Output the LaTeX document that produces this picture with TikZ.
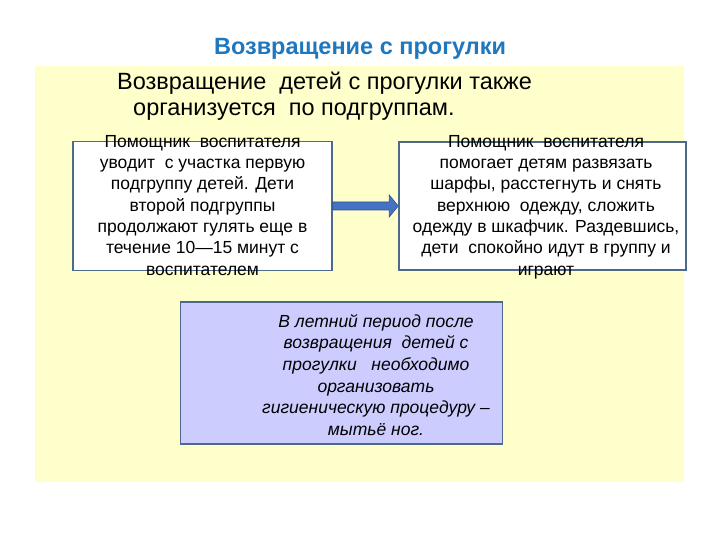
\documentclass[tikz,border=0pt]{standalone}
\usepackage{fontspec}
\setmainfont{Liberation Sans}
\usetikzlibrary{calc}
\definecolor{bgyellow}{HTML}{FFFFCC}
\definecolor{titleblue}{HTML}{1F77BE}
\definecolor{boxborder}{HTML}{4D6A8C}
\definecolor{lavender}{HTML}{CCCCFF}
\definecolor{arrowfill}{HTML}{4472C4}
\definecolor{arrowdraw}{HTML}{2F528F}
\tikzset{
  x=1pt, y=-1pt,
  panel/.style={draw=boxborder, line width=1.5pt, inner sep=0pt},
  boxtext/.style={align=center, font=\fontsize{17.5}{21.3}\selectfont, inner sep=0pt},
  headtext/.style={font=\fontsize{23.5}{27}\selectfont, anchor=base west, inner sep=0pt},
  arrowshape/.style={fill=arrowfill, draw=arrowdraw, line width=0.6pt}
}
\begin{document}
\begin{tikzpicture}
\useasboundingbox (0,0) rectangle (720,540);
\fill[bgyellow] (35,66) rectangle (684,482);
\node[font=\bfseries\fontsize{23.5}{27}\selectfont, text=titleblue, anchor=base, inner sep=0pt] (title) at (360,55) {Возвращение с прогулки};
\node[headtext] (sub1) at (117,90) {Возвращение\ \ детей с прогулки также};
\node[headtext] (sub2) at (133,116) {организуется\ \ по подгруппам.};
\node[panel, fill=white, minimum width=259pt, minimum height=129pt] (boxL) at (202.5,206) {};
\node[panel, fill=white, minimum width=287pt, minimum height=128pt] (boxR) at (542.5,206) {};
\node[panel, fill=lavender, minimum width=322pt, minimum height=142pt] (boxB) at (341.5,373) {};
\node[boxtext] (textL) at (202.5,207) {\strut Помощник\ \ воспитателя\\уводит\ \ с участка первую\\подгруппу детей. Дети\\второй подгруппы\\продолжают гулять еще в\\течение 10—15 минут с\\воспитателем\strut};
\node[boxtext] (textR) at (546,207) {\strut Помощник\ \ воспитателя\\помогает детям развязать\\шарфы, расстегнуть и снять\\верхнюю\ \ одежду, сложить\\одежду в шкафчик. Раздевшись,\\дети\ \ спокойно идут в группу и\\играют\strut};
\node[boxtext, font=\itshape\fontsize{17.5}{21.6}\selectfont] (textB) at (376,377) {\strut В летний период после\\возвращения\ \ детей с\\прогулки\ \ \ необходимо\\организовать\\гигиеническую процедуру –\\мытьё ног.\strut};
\draw[arrowshape] ($(boxL.east)+(0,-4)$) -- ($(boxR.west)+(-9,-4)$) -- ($(boxR.west)+(-9,-11)$) -- (boxR.west) -- ($(boxR.west)+(-9,11)$) -- ($(boxR.west)+(-9,4)$) -- ($(boxL.east)+(0,4)$) -- cycle;
\end{tikzpicture}
\end{document}
